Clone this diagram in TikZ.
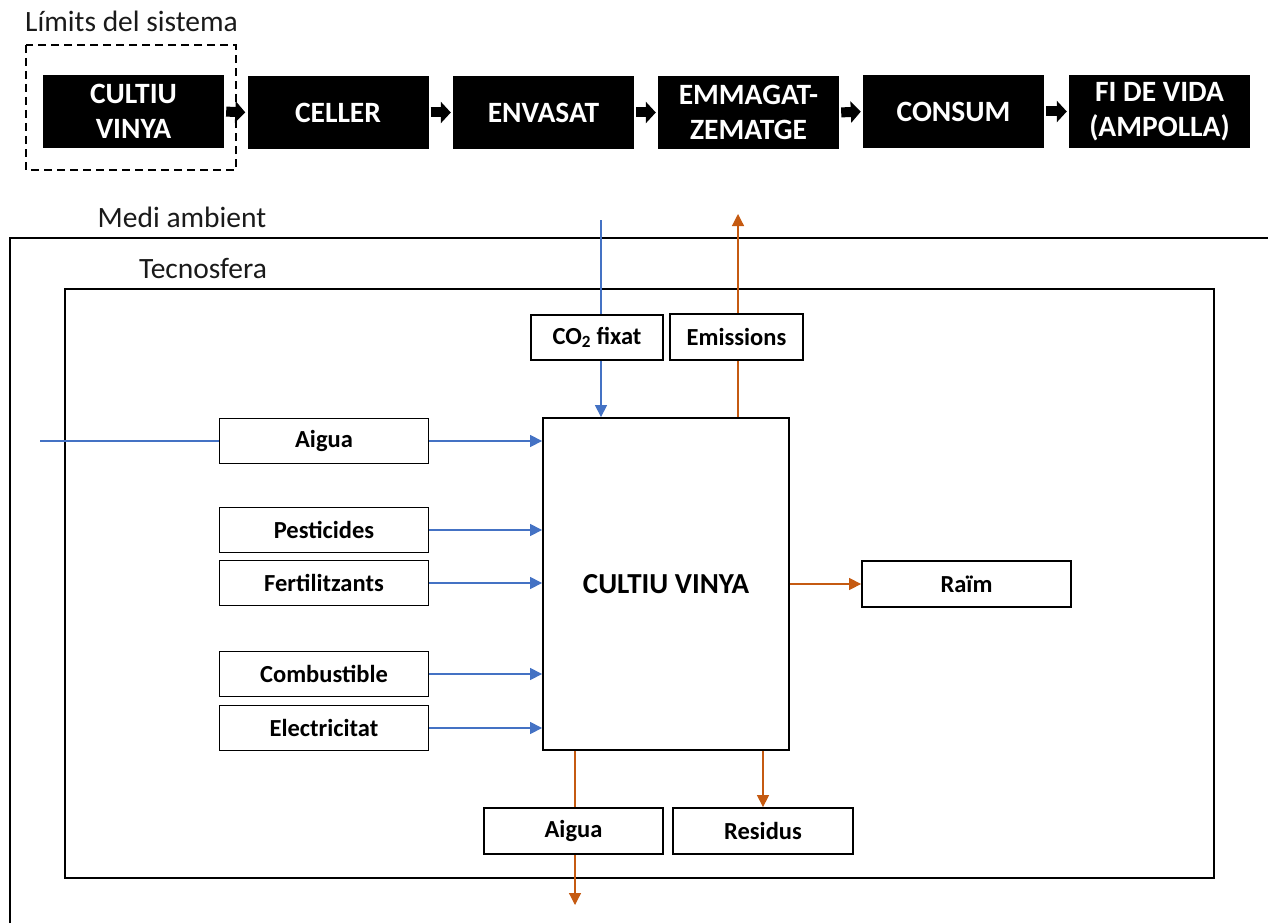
\documentclass[tikz,border=0pt]{standalone}
\usepackage{fontspec}
\setmainfont{Carlito}
\usetikzlibrary{arrows.meta}
\definecolor{flowblue}{HTML}{4472C4}
\definecolor{floworange}{HTML}{C55A11}
\definecolor{labelgray}{HTML}{1A1A1A}

\begin{document}
\begin{tikzpicture}[x=1pt,y=-1pt,
  stage/.style={fill=black, text=white, font=\fontsize{29.5}{35}\selectfont\bfseries,
    align=center, minimum width=181pt, minimum height=73pt, inner sep=0pt},
  chevron/.style={line width=10pt, shorten <=2pt, shorten >=2pt,
    -{Triangle[length=10pt,width=21pt]}},
  flowbox/.style={draw=black, line width=1.8pt, fill=white,
    font=\fontsize{24.5}{29}\selectfont\bfseries, minimum height=45pt, inner sep=0pt},
  inflow/.style={draw=flowblue, line width=1.2pt},
  outflow/.style={draw=floworange, line width=1.2pt},
  tip/.style={-{Triangle[length=12pt,width=12pt]}},
  boundary/.style={draw=black, line width=1.8pt},
  region/.style={text=labelgray, font=\fontsize{29.5}{35}\selectfont, inner sep=0pt}
]
\useasboundingbox (0,0) rectangle (1268,923);

% ---- life-cycle stages ----
\node[region, anchor=west] (limits) at (25,21) {Límits del sistema};
\node[stage] (s1) at (133.5,111.5) {CULTIU\\VINYA};
\node[stage] (s2) at (338,112.5) {CELLER};
\node[stage] (s3) at (543.5,112.5) {ENVASAT};
\node[stage] (s4) at (748.5,112.5) {EMMAGAT-\\ZEMATGE};
\node[stage] (s5) at (953.5,111.5) {CONSUM};
\node[stage] (s6) at (1159.5,111.5) {FI DE VIDA\\(AMPOLLA)};
\draw[black, line width=1.8pt, dash pattern=on 8pt off 5pt] (26,45) rectangle (236,170);
\foreach \a/\b in {s1/s2,s2/s3,s3/s4,s4/s5,s5/s6}
  \draw[chevron] (\a.east) -- (\b.west);

% ---- environment and technosphere ----
\node[region] (medi) at (182,217) {Medi ambient};
\draw[boundary] (10,923) -- (10,238) -- (1268,238);
\node[region] (tecno) at (203,268) {Tecnosfera};
\draw[boundary] (65,289) rectangle (1214,878);

% ---- unit process and its flows ----
\node[flowbox, minimum width=246pt, minimum height=332pt,
  font=\fontsize{29}{35}\selectfont\bfseries] (main) at (666,584) {CULTIU VINYA};

\node[flowbox, minimum width=209pt] (aigua) at (324,441) {Aigua};
\node[flowbox, minimum width=209pt] (pest) at (324,530) {Pesticides};
\node[flowbox, minimum width=209pt] (fert) at (324,583) {Fertilitzants};
\node[flowbox, minimum width=209pt] (comb) at (324,674) {Combustible};
\node[flowbox, minimum width=209pt] (elec) at (324,728) {Electricitat};

\node[flowbox, minimum width=132pt] (co2) at (597,337.5) {CO\textsubscript{2} fixat};
\node[flowbox, minimum width=133pt, minimum height=46pt] (emis) at (736.5,337) {Emissions};
\node[flowbox, minimum width=209pt, minimum height=46pt] (raim) at (966.5,584) {Raïm};
\node[flowbox, minimum width=179pt, minimum height=46pt] (aiguaout) at (573.5,831) {Aigua};
\node[flowbox, minimum width=180pt, minimum height=46pt] (resid) at (763,831) {Residus};

% inputs
\coordinate (waterin) at (40,441);
\draw[inflow] (waterin) -- (aigua.west);
\foreach \n in {aigua,pest,fert,comb,elec}
  \draw[inflow, tip] (\n.east) -- (main.west |- \n.east);
\coordinate (co2in) at (601,220);
\draw[inflow] (co2in) -- (co2in |- co2.north);
\draw[inflow, tip] (co2in |- co2.south) -- (co2in |- main.north);

% outputs
\coordinate (emisout) at (738,214);
\draw[outflow] (emisout |- main.north) -- (emisout |- emis.south);
\draw[outflow, tip] (emisout |- emis.north) -- (emisout);
\draw[outflow, tip] (main.east |- raim.west) -- (raim.west);
\coordinate (waterout) at (575,905);
\draw[outflow] (waterout |- main.south) -- (waterout |- aiguaout.north);
\draw[outflow, tip] (waterout |- aiguaout.south) -- (waterout);
\draw[outflow, tip] (resid.north |- main.south) -- (resid.north);
\end{tikzpicture}
\end{document}
